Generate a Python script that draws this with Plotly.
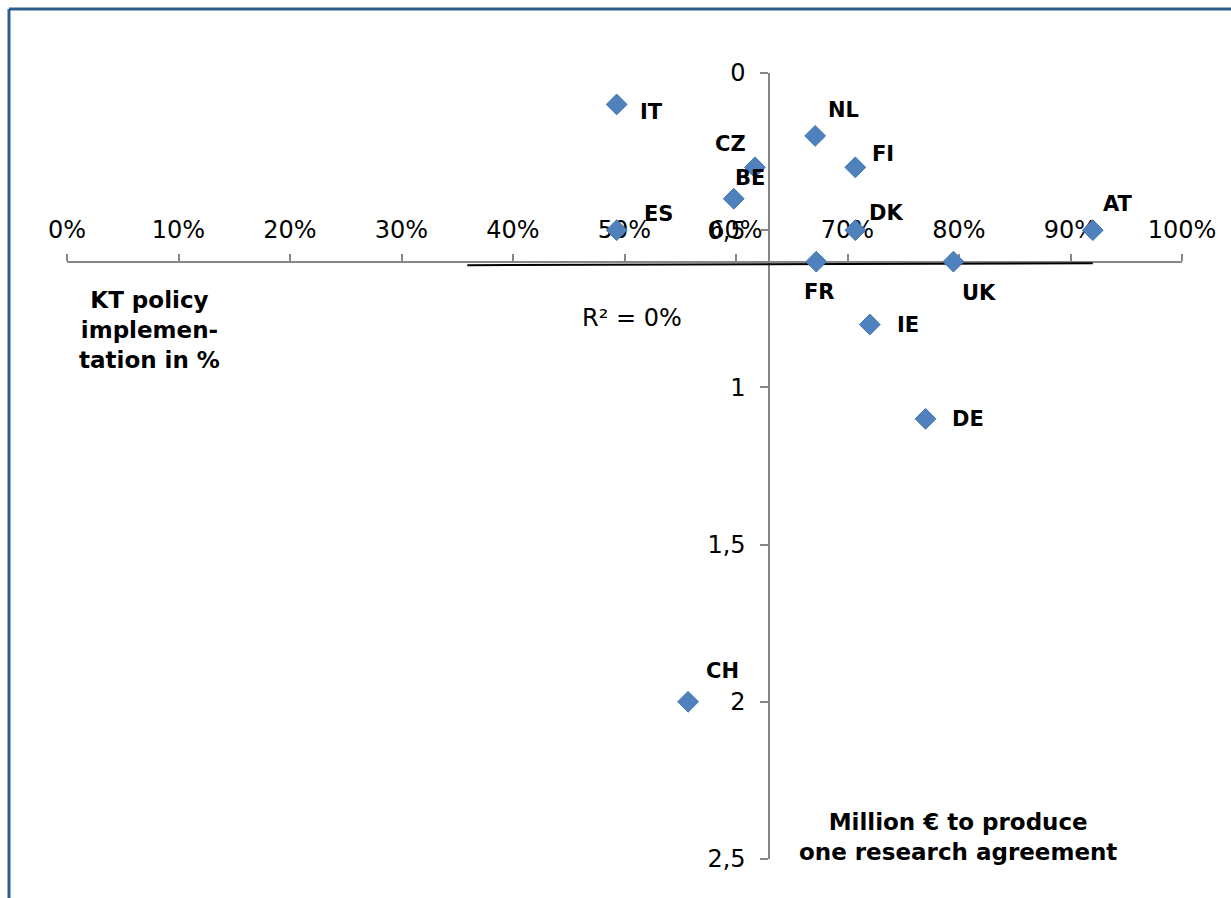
import numpy as np
import plotly.graph_objects as go

# ---- data ----
countries = ["IT", "NL", "CZ", "FI", "BE", "ES", "DK", "AT", "FR", "UK", "IE", "DE", "CH"]
kt_policy = [0.493, 0.671, 0.617, 0.707, 0.598, 0.493, 0.707, 0.920, 0.672, 0.795, 0.720, 0.770, 0.557]
million_eur = [0.1, 0.2, 0.3, 0.3, 0.4, 0.5, 0.5, 0.5, 0.6, 0.6, 0.8, 1.1, 2.0]

x_tickvals = [0, 0.1, 0.2, 0.3, 0.4, 0.5, 0.6, 0.7, 0.8, 0.9, 1.0]
x_ticktext = ["0%", "10%", "20%", "30%", "40%", "50%", "60%", "70%", "80%", "90%", "100%"]
y_tickvals = [0, 0.5, 1, 1.5, 2, 2.5]
y_ticktext = ["0", "0,5", "1", "1,5", "2", "2,5"]

x_cross_at_y = 0.6     # horizontal axis crosses vertical axis at this value
y_cross_at_x = 0.63    # vertical axis crosses horizontal axis at this value
trend_backward = 0.134 # trendline backward forecast

# ---- label offsets (px, dx right, dy down) ----
label_offsets = {
    "IT": (35, 8), "NL": (28, -26), "CZ": (-24, -23), "FI": (28, -13),
    "BE": (16, -21), "ES": (42, -16), "DK": (31, -17), "AT": (25, -26),
    "FR": (3, 30), "UK": (26, 31), "IE": (38, 0), "DE": (42, 0), "CH": (34, -31),
}

W, H = 1231, 898
ML, MR, MT, MB = 67, 49, 73, 39
PW, PH = W - ML - MR, H - MT - MB
FONT = "DejaVu Sans"

x_arr = np.array(kt_policy)
y_arr = np.array(million_eur)
slope, intercept = np.polyfit(x_arr, y_arr, 1)
pred = slope * x_arr + intercept
r2 = 1 - np.sum((y_arr - pred) ** 2) / np.sum((y_arr - y_arr.mean()) ** 2)
tx = np.array([x_arr.min() - trend_backward, x_arr.max()])
ty = slope * tx + intercept

fig = go.Figure()
fig.add_trace(go.Scatter(
    x=tx, y=ty, mode="lines", line=dict(color="black", width=2),
    hoverinfo="skip", showlegend=False))
fig.add_trace(go.Scatter(
    x=kt_policy, y=million_eur, mode="markers", text=countries,
    marker=dict(symbol="diamond", size=16, color="#4F81BD",
                line=dict(color="#4274AE", width=1)),
    showlegend=False))

for c, xv, yv in zip(countries, kt_policy, million_eur):
    dx, dy = label_offsets[c]
    fig.add_annotation(x=xv, y=yv, text=c, showarrow=False,
                       xanchor="center", yanchor="middle",
                       xshift=dx, yshift=-dy,
                       font=dict(family=FONT, size=21, color="black", weight="bold"))


def px_annot(text, cx, cy, size, bold=True):
    fig.add_annotation(xref="paper", yref="paper",
                       x=(cx - ML) / PW, y=1 - (cy - MT) / PH,
                       xanchor="center", yanchor="middle",
                       text=text, showarrow=False, align="center",
                       font=dict(family=FONT, size=size, color="black",
                                 weight="bold" if bold else "normal"))


px_annot("KT policy<br>implemen-<br>tation in %", 149, 330, 23)
px_annot("Million € to produce<br>one research agreement", 958, 837, 23)
px_annot("R² = %d%%" % round(r2 * 100), 632, 318, 24, bold=False)

# frame
border = "#2E5E8E"
fig.add_shape(type="line", xref="paper", yref="paper",
              x0=(9 - ML) / PW, x1=(W + 10 - ML) / PW,
              y0=1 - (9 - MT) / PH, y1=1 - (9 - MT) / PH,
              line=dict(color=border, width=3))
fig.add_shape(type="line", xref="paper", yref="paper",
              x0=(9 - ML) / PW, x1=(9 - ML) / PW,
              y0=1 - (9 - MT) / PH, y1=1 - (H + 10 - MT) / PH,
              line=dict(color=border, width=3))

axis_grey = "#868686"
fig.update_layout(
    width=W, height=H,
    margin=dict(l=ML, r=MR, t=MT, b=MB),
    paper_bgcolor="white", plot_bgcolor="white",
    font=dict(family=FONT, size=24, color="black"),
    xaxis=dict(range=[0, 1], tickvals=x_tickvals, ticktext=x_ticktext,
               side="top", anchor="free", position=1 - x_cross_at_y / 2.5,
               showgrid=False, zeroline=False, showline=True,
               linecolor=axis_grey, linewidth=2, ticks="outside", ticklen=7,
               tickcolor=axis_grey, tickwidth=2, layer="below traces",
               tickfont=dict(family=FONT, size=24, color="black"),
               ticklabelstandoff=6),
    yaxis=dict(range=[2.5, 0], tickvals=y_tickvals, ticktext=y_ticktext,
               anchor="free", position=y_cross_at_x,
               showgrid=False, zeroline=False, showline=True,
               linecolor=axis_grey, linewidth=2, ticks="outside", ticklen=8,
               tickcolor=axis_grey, tickwidth=2, layer="below traces",
               tickfont=dict(family=FONT, size=24, color="black"),
               ticklabelstandoff=10),
)

fig.write_html("out.html")
